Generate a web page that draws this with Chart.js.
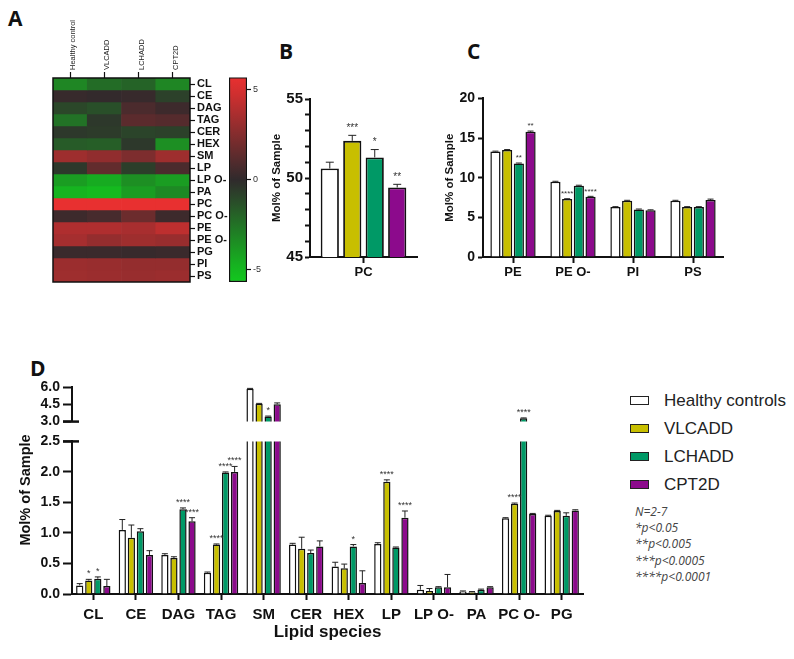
<!DOCTYPE html>
<html>
<head>
<meta charset="utf-8">
<title>Lipid species</title>
<script src="https://cdn.jsdelivr.net/npm/chart.js@4.4.0/dist/chart.umd.min.js"></script>
<style>
  body { margin:0; background:#fff; width:794px; height:659px; position:relative; overflow:hidden; font-family:"Liberation Sans", Arial, sans-serif; }
  canvas { position:absolute; }
  .panel { position:absolute; font-family:"Open Sans", sans-serif; font-weight:bold; font-size:21px; line-height:21px; color:#111; }
  .ytitle { position:absolute; font-weight:bold; font-size:14.5px; white-space:nowrap; transform:rotate(-90deg); transform-origin:center; color:#111; }
  .leg { position:absolute; left:630px; font-size:17px; line-height:20px; color:#222; white-space:nowrap; }
  .leg span { display:inline-block; width:17px; height:7px; border:1.5px solid #222; margin-right:15px; vertical-align:1px; }
  .note { position:absolute; left:635px; top:504px; font-family:"Open Sans", sans-serif; font-style:italic; font-size:12px; line-height:16.2px; color:#444; }
</style>
</head>
<body>
<div class="panel" style="left:8px;top:8px">A</div>
<div class="panel" style="left:279px;top:41px">B</div>
<div class="panel" style="left:467px;top:41px">C</div>
<div class="panel" style="left:30px;top:358px">D</div>

<canvas id="heat" width="190" height="292" style="left:40px;top:0px"></canvas>
<canvas id="cbar" width="52" height="220" style="left:225px;top:70px"></canvas>
<canvas id="chartB" width="163" height="200" style="left:262px;top:88px"></canvas>
<canvas id="chartC" width="297" height="200" style="left:435px;top:87px"></canvas>
<canvas id="chartDtop" width="600" height="58" style="left:0px;top:375px"></canvas>
<canvas id="chartD" width="600" height="215" style="left:0px;top:430px"></canvas>

<div class="ytitle" style="left:-35px;top:482px;width:120px;text-align:center">Mol% of Sample</div>

<div id="legend"></div>
<div class="note" id="note"></div>

<script>
// ---- heatmap (panel A) ----
var heatCols = ['Healthy control', 'VLCADD', 'LCHADD', 'CPT2D'];
var heatRows = ['CL', 'CE', 'DAG', 'TAG', 'CER', 'HEX', 'SM', 'LP', 'LP O-', 'PA', 'PC', 'PC O-', 'PE', 'PE O-', 'PG', 'PI', 'PS'];
var heatHC = [-3.2, 0.2, -1.0, -2.5, -0.5, -1.7, 3.3, -0.5, -4.0, -4.8, 5.7, 0.4, 3.8, 3.5, 0.3, 3.2, 3.3];
var heatVL = [-2.3, 0.1, -1.3, -0.5, -0.6, -1.8, 2.9, 1.5, -4.5, -5.0, 5.7, 0.7, 3.8, 3.0, 0.3, 3.1, 3.2];
var heatLC = [-2.0, 0.2, 0.8, 1.3, -0.9, -0.5, 2.3, -0.7, -3.5, -4.0, 5.7, 1.8, 3.6, 3.3, 0.2, 3.0, 3.1];
var heatCP = [-3.2, -0.8, 0.4, 1.1, -0.8, -3.5, 3.3, 0.8, -4.0, -3.3, 5.7, 0.4, 4.2, 3.1, 0.3, 3.0, 3.2];
var colorRange = [-5.7, 5.7];
var colorTicks = [-5, 0, 5];

// ---- panel B ----
var bCats = ['PC'];
var bHC = [50.6], bVL = [52.35], bLC = [51.3], bCP = [49.4];
var bHCsd = [0.4], bVLsd = [0.35], bLCsd = [0.5], bCPsd = [0.2];
var bStars = [[''], ['***'], ['*'], ['**']];

// ---- panel C ----
var cCats = ['PE', 'PE O-', 'PI', 'PS'];
var cHC = [13.3, 9.5, 6.3, 7.1];
var cVL = [13.5, 7.3, 7.1, 6.3];
var cLC = [11.8, 9.0, 6.0, 6.3];
var cCP = [15.8, 7.6, 5.9, 7.2];
var cHCsd = [0.05, 0.05, 0.05, 0.05];
var cVLsd = [0.05, 0.05, 0.05, 0.05];
var cLCsd = [0.05, 0.05, 0.05, 0.05];
var cCPsd = [0.08, 0.05, 0.05, 0.1];
var cStars = [['', '', '', ''], ['', '****', '', ''], ['**', '', '', ''], ['**', '****', '', '']];

// ---- panel D ----
var dCats = ['CL', 'CE', 'DAG', 'TAG', 'SM', 'CER', 'HEX', 'LP', 'LP O-', 'PA', 'PC O-', 'PG'];
var dHC = [0.14, 1.05, 0.64, 0.35, 5.85, 0.81, 0.45, 0.82, 0.07, 0.04, 1.24, 1.28];
var dVL = [0.22, 0.92, 0.59, 0.81, 4.55, 0.74, 0.42, 1.84, 0.05, 0.03, 1.48, 1.36];
var dLC = [0.25, 1.03, 1.39, 1.99, 3.45, 0.67, 0.78, 0.76, 0.11, 0.07, 3.3, 1.28];
var dCP = [0.13, 0.64, 1.19, 2.0, 4.5, 0.78, 0.18, 1.25, 0.11, 0.11, 1.31, 1.37];
var dHCsd = [0.03, 0.17, 0.02, 0.01, 0.03, 0.02, 0.07, 0.02, 0.07, 0.01, 0.01, 0.01];
var dVLsd = [0.02, 0.21, 0.02, 0.01, 0.03, 0.19, 0.07, 0.03, 0.04, 0.01, 0.01, 0.01];
var dLCsd = [0.03, 0.04, 0.02, 0.01, 0.03, 0.05, 0.03, 0.01, 0.01, 0.01, 0.02, 0.05];
var dCPsd = [0.11, 0.07, 0.06, 0.09, 0.12, 0.09, 0.2, 0.11, 0.21, 0.01, 0.01, 0.01];
var dStars = [
  ['', '', '', '', '', '', '', '', '', '', '', ''],
  ['*', '', '', '****', '', '', '', '****', '', '', '****', ''],
  ['*', '', '****', '****', '*', '', '*', '', '', '', '****', ''],
  ['', '', '****', '****', '', '', '', '****', '', '', '', '']
];

var seriesNames = ['Healthy controls', 'VLCADD', 'LCHADD', 'CPT2D'];
var seriesColors = ['#ffffff', '#c8bf00', '#009966', '#8c0a8c'];
var notes = ['N=2-7', '*p<0.05', '**p<0.005', '***p<0.0005', '****p<0.0001'];

Chart.defaults.font.family = '"Liberation Sans", Arial, sans-serif';
Chart.defaults.color = '#111';

function heatColor(v) {
  var t = Math.max(-1, Math.min(1, v / 5.5));
  var mid = [48, 42, 44], end = t > 0 ? [232, 48, 48] : [18, 200, 30];
  var a = Math.abs(t);
  var c = mid.map(function (m, k) { return Math.round(m + (end[k] - m) * a); });
  return 'rgb(' + c.join(',') + ')';
}

function fixed(w, h) {
  return function (s) { if (w != null) s.width = w; if (h != null) s.height = h; };
}

// error bars + significance stars drawn over the bars
function errPlugin(sds, stars, cap, starSize, gap) {
  return {
    id: 'errbars',
    afterDatasetsDraw: function (chart) {
      var ctx = chart.ctx, y = chart.scales.y;
      ctx.save();
      chart.data.datasets.forEach(function (ds, i) {
        chart.getDatasetMeta(i).data.forEach(function (bar, j) {
          var v = ds.data[j];
          if (v < y.min || v > y.max) return;
          var top = y.getPixelForValue(v + sds[i][j]);
          ctx.strokeStyle = '#222';
          ctx.lineWidth = 1;
          ctx.beginPath();
          ctx.moveTo(bar.x, bar.y);
          ctx.lineTo(bar.x, top);
          ctx.moveTo(bar.x - cap, top);
          ctx.lineTo(bar.x + cap, top);
          ctx.stroke();
          if (stars[i][j]) {
            ctx.fillStyle = '#333';
            ctx.font = starSize + 'px "Liberation Sans", Arial';
            ctx.textAlign = 'center';
            ctx.textBaseline = 'bottom';
            ctx.fillText(stars[i][j], bar.x, top - gap);
          }
        });
      });
      ctx.restore();
    }
  };
}

function barSets(arrays, bw, catPct, barPct) {
  return arrays.map(function (arr, i) {
    return {
      label: seriesNames[i], data: arr,
      backgroundColor: seriesColors[i], borderColor: '#111', borderWidth: bw,
      categoryPercentage: catPct, barPercentage: barPct, clip: 0
    };
  });
}

function axisX(fontSize, tickPad, h) {
  return {
    offset: true,
    grid: { offset: false, drawOnChartArea: false, tickLength: 6, tickWidth: 2, tickColor: '#111' },
    border: { display: true, color: '#111', width: 2 },
    ticks: { font: { size: fontSize, weight: 'bold' }, padding: tickPad, color: '#111', minRotation: 0, maxRotation: 0, autoSkip: false },
    afterFit: fixed(null, h)
  };
}

function axisY(min, max, step, fontSize, tickLen, pad, w, cb) {
  return {
    min: min, max: max,
    grid: { drawOnChartArea: false, tickLength: tickLen, tickWidth: 2, tickColor: '#111' },
    border: { display: true, color: '#111', width: 2 },
    ticks: { stepSize: step, autoSkip: false, font: { size: fontSize, weight: 'bold' }, padding: pad, color: '#111', callback: cb },
    afterFit: fixed(w, null)
  };
}

var base = { responsive: false, animation: false, plugins: { legend: { display: false }, tooltip: { enabled: false } } };

// ---- A: heatmap ----
var heatByCol = [heatHC, heatVL, heatLC, heatCP];
new Chart(document.getElementById('heat'), {
  type: 'bar',
  data: {
    labels: heatCols,
    datasets: heatRows.map(function (r, i) {
      return {
        label: r,
        data: heatCols.map(function () { return 1; }),
        backgroundColor: heatByCol.map(function (col) { return heatColor(col[i]); }),
        borderWidth: 0, barPercentage: 1, categoryPercentage: 1
      };
    })
  },
  options: Object.assign({}, base, {
    layout: { padding: { left: 13, top: 0, right: 0, bottom: 10 } },
    scales: {
      x: {
        position: 'top', stacked: true, offset: true,
        grid: { offset: false, drawOnChartArea: false, tickLength: 6, tickWidth: 1.2, tickColor: '#111' },
        border: { display: false },
        ticks: { minRotation: 90, maxRotation: 90, autoSkip: false, font: { size: 7.5 }, padding: 2, labelOffset: 12, color: '#222' },
        afterFit: fixed(null, 78)
      },
      y: {
        type: 'linear', position: 'right', stacked: true, reverse: true, min: 0, max: heatRows.length,
        afterBuildTicks: function (s) { s.ticks = heatRows.map(function (r, i) { return { value: i + 0.5 }; }); },
        grid: { drawOnChartArea: false, tickLength: 5, tickWidth: 1.2, tickColor: '#111' },
        border: { display: false },
        ticks: { autoSkip: false, font: { size: 11, weight: 'bold' }, padding: 2, color: '#111',
          callback: function (v, i) { return heatRows[i]; } },
        afterFit: fixed(40, null)
      }
    }
  }),
  plugins: [{
    id: 'frame',
    afterDatasetsDraw: function (chart) {
      var a = chart.chartArea, ctx = chart.ctx;
      ctx.save(); ctx.strokeStyle = '#111'; ctx.lineWidth = 1.5;
      ctx.strokeRect(a.left, a.top, a.right - a.left, a.bottom - a.top);
      ctx.restore();
    }
  }]
});

// colour scale bar
new Chart(document.getElementById('cbar'), {
  type: 'bar',
  data: {
    labels: [''],
    datasets: [{
      data: [colorRange],
      backgroundColor: function (c) {
        var chart = c.chart, y = chart.scales.y;
        if (!chart.chartArea || !y) return '#333';
        var g = chart.ctx.createLinearGradient(0, y.getPixelForValue(colorRange[1]), 0, y.getPixelForValue(colorRange[0]));
        for (var k = 0; k <= 12; k++) {
          g.addColorStop(k / 12, heatColor(colorRange[1] - k * (colorRange[1] - colorRange[0]) / 12));
        }
        return g;
      },
      borderColor: '#111', borderWidth: 1.5, borderSkipped: false,
      barPercentage: 1, categoryPercentage: 1
    }]
  },
  options: Object.assign({}, base, {
    layout: { padding: { left: 4, top: 7, right: 0, bottom: 8 } },
    scales: {
      x: { display: false },
      y: {
        position: 'right', min: colorRange[0], max: colorRange[1],
        afterBuildTicks: function (s) { s.ticks = colorTicks.map(function (v) { return { value: v }; }); },
        grid: { drawOnChartArea: false, tickLength: 4, tickWidth: 1.2, tickColor: '#111' },
        border: { display: false },
        ticks: { font: { size: 9 }, padding: 2, color: '#333' },
        afterFit: fixed(30, null)
      }
    }
  })
});

// ---- B ----
new Chart(document.getElementById('chartB'), {
  type: 'bar',
  data: { labels: bCats, datasets: barSets([bHC, bVL, bLC, bCP], 1.8, 0.84, 0.81) },
  options: Object.assign({}, base, {
    layout: { padding: { left: 0, top: 10, right: 8, bottom: 0 } },
    scales: {
      x: axisX(13, 2, 31),
      y: Object.assign(axisY(45, 55, 1, 15, 5, 2, 48, function (v) { return v % 5 === 0 ? v : ''; }), {
        title: { display: true, text: 'Mol% of Sample', font: { size: 11.5, weight: 'bold' }, padding: { top: 8, bottom: 0 }, color: '#111' }
      })
    }
  }),
  plugins: [errPlugin([bHCsd, bVLsd, bLCsd, bCPsd], bStars, 4, 10, 2)]
});

// ---- C ----
new Chart(document.getElementById('chartC'), {
  type: 'bar',
  data: { labels: cCats, datasets: barSets([cHC, cVL, cLC, cCP], 1.5, 0.78, 0.87) },
  options: Object.assign({}, base, {
    layout: { padding: { left: 0, top: 10, right: 9, bottom: 0 } },
    scales: {
      x: axisX(13, 2, 30),
      y: Object.assign(axisY(0, 20, 5, 14, 5, 3, 48), {
        title: { display: true, text: 'Mol% of Sample', font: { size: 11.5, weight: 'bold' }, padding: { top: 8, bottom: 0 }, color: '#111' }
      })
    }
  }),
  plugins: [errPlugin([cHCsd, cVLsd, cLCsd, cCPsd], cStars, 3, 8, 1)]
});

// ---- D (broken y axis: upper and lower segment) ----
var dSets = [dHC, dVL, dLC, dCP], dSds = [dHCsd, dVLsd, dLCsd, dCPsd];
function breakMark(atTop) {
  return {
    id: 'breakMark',
    afterDraw: function (chart) {
      var a = chart.chartArea, ctx = chart.ctx, yy = atTop ? a.top : a.bottom;
      ctx.save(); ctx.strokeStyle = '#111'; ctx.lineWidth = 2.5;
      ctx.beginPath(); ctx.moveTo(a.left - 9, yy); ctx.lineTo(a.left + 7, yy); ctx.stroke();
      ctx.restore();
    }
  };
}
var fmt1 = function (v) { return v.toFixed(1); };

new Chart(document.getElementById('chartDtop'), {
  type: 'bar',
  data: { labels: dCats, datasets: barSets(dSets, 1.5, 0.85, 0.8) },
  options: Object.assign({}, base, {
    layout: { padding: { left: 0, top: 12, right: 17, bottom: 8 } },
    scales: {
      x: { display: false, offset: true },
      y: axisY(3, 6, 1.5, 14, 9, 3, 72, fmt1)
    }
  }),
  plugins: [errPlugin(dSds, dStars, 3, 9, 1), breakMark(false)]
});

new Chart(document.getElementById('chartD'), {
  type: 'bar',
  data: { labels: dCats, datasets: barSets(dSets, 1.5, 0.85, 0.8) },
  options: Object.assign({}, base, {
    layout: { padding: { left: 0, top: 11, right: 17, bottom: 0 } },
    scales: {
      x: Object.assign(axisX(15, 6, 51), {
        title: { display: true, text: 'Lipid species', font: { size: 17, weight: 'bold' }, padding: { top: 0, bottom: 2 }, color: '#111' }
      }),
      y: axisY(0, 2.5, 0.5, 14, 9, 3, 72, fmt1)
    }
  }),
  plugins: [errPlugin(dSds, dStars, 3, 9, 1), breakMark(true)]
});

// legend and notes for D
var legHtml = '';
var legTops = [391, 419, 447, 475];
seriesNames.forEach(function (n, i) {
  legHtml += '<div class="leg" style="top:' + legTops[i] + 'px"><span style="background:' + seriesColors[i] + '"></span>' + n + '</div>';
});
document.getElementById('legend').innerHTML = legHtml;
document.getElementById('note').innerHTML = notes.map(function (s) { return s.replace('<', '&lt;'); }).join('<br>');
</script>
</body>
</html>
